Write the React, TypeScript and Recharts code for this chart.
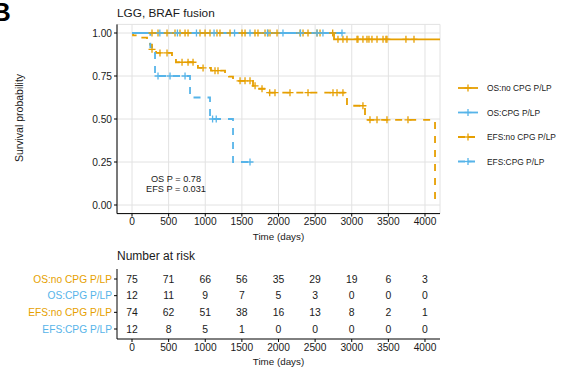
import React from 'react';
import { ComposedChart, Line, Scatter, XAxis, YAxis, CartesianGrid } from 'recharts';

const ORANGE = '#E69F00';
const BLUE = '#56B4E9';
const FONT = '"Liberation Sans", Arial, Helvetica, sans-serif';
const TXT = '#1a1a1a';

// ---------- axes ----------
const xTicks = [0, 500, 1000, 1500, 2000, 2500, 3000, 3500, 4000];
const yTicks = [0, 0.25, 0.5, 0.75, 1];

// ---------- OS: no CPG P/LP ----------
const osNoTimes = [0, 2758];
const osNoSurv = [1, 0.963];
const osNoEnd = 4205;
const osNoCensor = [273, 355, 478, 587, 655, 724, 765, 928, 997, 1065, 1160, 1201, 1338, 1502, 1543, 1679, 1720, 1816, 1857, 1884, 1980, 2294, 2335, 2403, 2526, 2567, 2740, 2812, 2880, 2935, 3072, 3085, 3153, 3208, 3235, 3276, 3345, 3427, 3467, 3481, 3740, 3850];

// ---------- OS: CPG P/LP ----------
const osCpgTimes = [0];
const osCpgSurv = [1];
const osCpgEnd = 2867;
const osCpgCensor = [380, 620, 880, 1120, 1400, 1611, 1850, 2061, 2300, 2526, 2607, 2867];

// ---------- EFS: no CPG P/LP ----------
const efsNoTimes = [0, 14, 109, 205, 246, 273, 328, 546, 600, 900, 1078, 1270, 1324, 1379, 1652, 1707, 1830, 2935, 3181, 4137];
const efsNoSurv = [1, 0.986, 0.973, 0.959, 0.932, 0.905, 0.884, 0.858, 0.83, 0.797, 0.781, 0.765, 0.746, 0.722, 0.693, 0.676, 0.653, 0.577, 0.495, 0];
const efsNoEnd = 4137;
const efsNoCensor = [273, 382, 478, 683, 765, 833, 970, 1133, 1174, 1475, 1543, 1611, 1680, 1775, 1880, 1952, 2157, 2403, 2744, 2799, 2880, 3153, 3249, 3345, 3481, 3768];

// ---------- EFS: CPG P/LP ----------
const efsCpgTimes = [0, 250, 314, 792, 1065, 1379];
const efsCpgSurv = [1, 0.917, 0.75, 0.625, 0.5, 0.25];
const efsCpgEnd = 1611;
const efsCpgCensor = [355, 519, 724, 1100, 1150, 1611];

// ---------- risk table ----------
const riskTimes = [0, 500, 1000, 1500, 2000, 2500, 3000, 3500, 4000];
const riskLabels = ['OS:no CPG P/LP', 'OS:CPG P/LP', 'EFS:no CPG P/LP', 'EFS:CPG P/LP'];
const riskColors = [ORANGE, BLUE, ORANGE, BLUE];
const riskOsNo = [75, 71, 66, 56, 35, 29, 19, 6, 3];
const riskOsCpg = [12, 11, 9, 7, 5, 3, 0, 0, 0];
const riskEfsNo = [74, 62, 51, 38, 16, 13, 8, 2, 1];
const riskEfsCpg = [12, 8, 5, 1, 0, 0, 0, 0, 0];

function stepData(times: number[], surv: number[], end: number) {
  const pts = times.map((t, i) => ({ t, s: surv[i] }));
  if (end > times[times.length - 1]) pts.push({ t: end, s: surv[surv.length - 1] });
  return pts;
}
function censorData(times: number[], surv: number[], cens: number[]) {
  return cens.map((c) => {
    let s = surv[0];
    for (let i = 0; i < times.length; i++) if (times[i] <= c) s = surv[i];
    return { t: c, s };
  });
}

const makeCross = (color: string) => (props: any) => {
  const { cx, cy } = props;
  if (cx == null || cy == null) return <g />;
  return (
    <g>
      <line x1={cx - 3.5} x2={cx + 3.5} y1={cy} y2={cy} stroke={color} strokeWidth={1.3} />
      <line x1={cx} x2={cx} y1={cy - 3.5} y2={cy + 3.5} stroke={color} strokeWidth={1.3} />
    </g>
  );
};

const makeRiskText = (key: string) => (props: any) => {
  const { cx, cy, payload } = props;
  if (cx == null || cy == null) return <g />;
  return (
    <text x={cx} y={cy} textAnchor="middle" dominantBaseline="central" fontSize={10.4} fill={TXT} fontFamily={FONT}>
      {payload ? payload[key] : ''}
    </text>
  );
};

const RiskTick = (props: any) => {
  const { x, y, payload } = props;
  const i = Math.round(payload.value) - 1;
  return (
    <text x={x} y={y} textAnchor="end" dominantBaseline="central" fontSize={10.2} fill={riskColors[i]} fontFamily={FONT}>
      {riskLabels[i]}
    </text>
  );
};

const W = 567;

export default function App() {
  const osNoLine = stepData(osNoTimes, osNoSurv, osNoEnd);
  const osCpgLine = stepData(osCpgTimes, osCpgSurv, osCpgEnd);
  const efsNoLine = stepData(efsNoTimes, efsNoSurv, efsNoEnd);
  const efsCpgLine = stepData(efsCpgTimes, efsCpgSurv, efsCpgEnd);

  const riskRows = riskTimes.map((t, i) => ({
    t,
    r1: 1, r2: 2, r3: 3, r4: 4,
    a: riskOsNo[i], b: riskOsCpg[i], c: riskEfsNo[i], d: riskEfsCpg[i],
  }));

  const tickStyle = { fontSize: 10.2, fill: TXT, fontFamily: FONT };
  const lw = 1.8;
  const dash = '7 7';

  const legendItems = [
    { label: 'OS:no CPG P/LP', color: ORANGE, dashed: false, y: 88 },
    { label: 'OS:CPG P/LP', color: BLUE, dashed: false, y: 112.5 },
    { label: 'EFS:no CPG P/LP', color: ORANGE, dashed: true, y: 137 },
    { label: 'EFS:CPG P/LP', color: BLUE, dashed: true, y: 161.5 },
  ];

  return (
    <div style={{ position: 'absolute', left: 0, top: 0, width: W, height: 371, background: '#fff', fontFamily: FONT, overflow: 'hidden' }}>
      <div style={{ position: 'absolute', left: 0, top: 0 }}>
        <ComposedChart width={W} height={250} margin={{ top: 24.4, right: 127, bottom: 10.4, left: 57 }}>
          <CartesianGrid stroke="#e2e2e2" strokeWidth={1} />
          <XAxis
            type="number"
            dataKey="t"
            domain={[-205, 4205]}
            ticks={xTicks}
            interval={0}
            allowDataOverflow
            height={26}
            tickSize={3}
            tickMargin={1}
            tick={tickStyle}
            stroke="#000"
          />
          <YAxis
            type="number"
            domain={[-0.05, 1.05]}
            ticks={yTicks}
            interval={0}
            allowDataOverflow
            width={60}
            tickSize={3}
            tickMargin={2}
            tick={tickStyle}
            tickFormatter={(v: number) => v.toFixed(2)}
            stroke="#000"
          />
          <Line data={osNoLine} dataKey="s" type="stepAfter" stroke={ORANGE} strokeWidth={lw} dot={false} isAnimationActive={false} />
          <Line data={osCpgLine} dataKey="s" type="stepAfter" stroke={BLUE} strokeWidth={lw} dot={false} isAnimationActive={false} />
          <Line data={efsNoLine} dataKey="s" type="stepAfter" stroke={ORANGE} strokeWidth={lw} strokeDasharray={dash} dot={false} isAnimationActive={false} />
          <Line data={efsCpgLine} dataKey="s" type="stepAfter" stroke={BLUE} strokeWidth={lw} strokeDasharray={dash} dot={false} isAnimationActive={false} />
          <Scatter data={censorData(osNoTimes, osNoSurv, osNoCensor)} dataKey="s" shape={makeCross(ORANGE)} isAnimationActive={false} />
          <Scatter data={censorData(osCpgTimes, osCpgSurv, osCpgCensor)} dataKey="s" shape={makeCross(BLUE)} isAnimationActive={false} />
          <Scatter data={censorData(efsNoTimes, efsNoSurv, efsNoCensor)} dataKey="s" shape={makeCross(ORANGE)} isAnimationActive={false} />
          <Scatter data={censorData(efsCpgTimes, efsCpgSurv, efsCpgCensor)} dataKey="s" shape={makeCross(BLUE)} isAnimationActive={false} />
        </ComposedChart>
      </div>

      <div style={{ position: 'absolute', left: 0, top: 240 }}>
        <ComposedChart width={W} height={131} data={riskRows} margin={{ top: 29, right: 127, bottom: 12, left: 57 }}>
          <XAxis
            type="number"
            dataKey="t"
            domain={[-205, 4205]}
            ticks={xTicks}
            interval={0}
            allowDataOverflow
            height={20}
            tickSize={3}
            tickMargin={2}
            tick={tickStyle}
            stroke="#000"
          />
          <YAxis
            type="number"
            domain={[0.4, 4.6]}
            ticks={[1, 2, 3, 4]}
            interval={0}
            reversed
            allowDataOverflow
            width={60}
            tickSize={3}
            tickMargin={2}
            tick={<RiskTick />}
            stroke="#000"
          />
          <Scatter dataKey="r1" shape={makeRiskText('a')} isAnimationActive={false} />
          <Scatter dataKey="r2" shape={makeRiskText('b')} isAnimationActive={false} />
          <Scatter dataKey="r3" shape={makeRiskText('c')} isAnimationActive={false} />
          <Scatter dataKey="r4" shape={makeRiskText('d')} isAnimationActive={false} />
        </ComposedChart>
      </div>

      <svg width={W} height={371} style={{ position: 'absolute', left: 0, top: 0, pointerEvents: 'none' }} fontFamily={FONT}>
        <text x={-8} y={21} fontSize={26} fontWeight="bold" fill="#000">B</text>
        <text x={117} y={17} fontSize={11.8} fill={TXT}>LGG, BRAF fusion</text>
        <text x={19} y={118} fontSize={10.5} fill={TXT} textAnchor="middle" dominantBaseline="central" transform="rotate(-90 19 118)">Survival probability</text>
        <text x={176} y={178.5} fontSize={9.2} fill={TXT} textAnchor="middle" dominantBaseline="central">OS P = 0.78</text>
        <text x={176} y={189.3} fontSize={9.2} fill={TXT} textAnchor="middle" dominantBaseline="central">EFS P = 0.031</text>
        <text x={278.5} y={236} fontSize={9.8} fill={TXT} textAnchor="middle" dominantBaseline="central">Time (days)</text>
        <text x={117} y={256} fontSize={12} fill={TXT} dominantBaseline="central">Number at risk</text>
        <text x={278.5} y={361} fontSize={9.8} fill={TXT} textAnchor="middle" dominantBaseline="central">Time (days)</text>
        {legendItems.map((it) => (
          <g key={it.label}>
            <line x1={458} x2={478} y1={it.y} y2={it.y} stroke={it.color} strokeWidth={lw} strokeDasharray={it.dashed ? '7 3' : undefined} />
            <line x1={464.5} x2={471.5} y1={it.y} y2={it.y} stroke={it.color} strokeWidth={1.3} />
            <line x1={468} x2={468} y1={it.y - 3.5} y2={it.y + 3.5} stroke={it.color} strokeWidth={1.3} />
            <text x={487} y={it.y} fontSize={8.4} fill={TXT} dominantBaseline="central">{it.label}</text>
          </g>
        ))}
      </svg>
    </div>
  );
}
